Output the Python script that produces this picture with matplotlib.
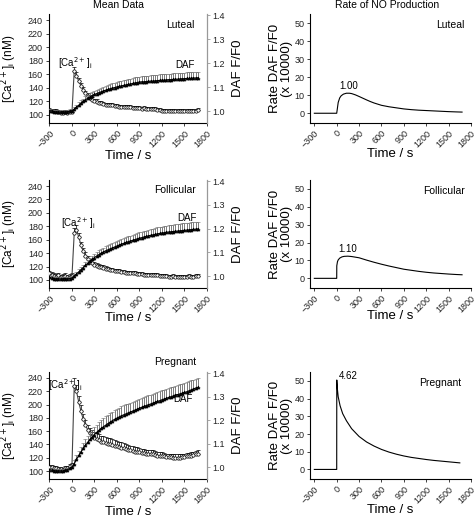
import numpy as np
import matplotlib
matplotlib.use("Agg")
import matplotlib.pyplot as plt

plt.rcParams['font.family'] = ['Liberation Sans', 'DejaVu Sans']

# time grid of the recordings (s)
time = list(range(-300, 1681, 30))

# ---- Luteal ----
lut_ca = [107, 106, 105, 105, 104, 103, 103, 104, 103, 104,
          104,
          165, 158, 150, 143, 137, 132, 128, 125, 122, 120,
          119, 118, 117, 116, 115, 115, 114, 114, 113, 113,
          112, 112, 112, 111, 111, 111, 110, 110, 110, 110,
          109, 110, 109, 109, 108, 108, 108, 107, 107, 106,
          106, 106, 105, 106, 105, 105, 106, 105, 105, 105,
          105, 106, 105, 106, 106, 107]
lut_ca_err = [3, 3, 3, 3, 3, 3, 3, 3, 3, 3,
              3,
              5, 5, 5, 4, 4, 4, 4, 4, 4, 4,
              4, 3, 3, 3, 3, 3, 3, 3, 3, 3,
              3, 3, 3, 3, 3, 3, 3, 3, 3, 3,
              3, 3, 3, 3, 3, 3, 3, 3, 3, 3,
              3, 3, 3, 3, 3, 3, 3, 3, 3, 3,
              3, 3, 3, 3, 3, 3]
lut_daf = [1.002, 1.000, 0.998, 0.997, 0.996, 0.995, 0.996, 0.996, 0.997, 0.999,
           1.000,
           1.008, 1.016, 1.024, 1.032, 1.040, 1.047, 1.053, 1.059, 1.064, 1.069,
           1.073, 1.077, 1.080, 1.084, 1.087, 1.090, 1.093, 1.096, 1.098, 1.101,
           1.103, 1.105, 1.107, 1.109, 1.111, 1.113, 1.115, 1.117, 1.119, 1.121,
           1.122, 1.122, 1.123, 1.124, 1.125, 1.125, 1.126, 1.127, 1.128, 1.129,
           1.129, 1.130, 1.131, 1.131, 1.132, 1.133, 1.133, 1.134, 1.135, 1.135,
           1.136, 1.136, 1.137, 1.138, 1.138, 1.139]
lut_daf_err = [0.008, 0.008, 0.008, 0.008, 0.008, 0.008, 0.008, 0.008, 0.008, 0.008,
               0.008,
               0.010, 0.010, 0.012, 0.012, 0.012, 0.014, 0.014, 0.015, 0.015, 0.016,
               0.016, 0.017, 0.017, 0.018, 0.018, 0.019, 0.019, 0.020, 0.020, 0.020,
               0.021, 0.021, 0.022, 0.022, 0.022, 0.022, 0.023, 0.023, 0.023, 0.023,
               0.023, 0.024, 0.024, 0.024, 0.024, 0.024, 0.025, 0.025, 0.025, 0.025,
               0.025, 0.025, 0.025, 0.025, 0.025, 0.025, 0.025, 0.025, 0.025, 0.025,
               0.025, 0.025, 0.025, 0.025, 0.025, 0.025]

# ---- Follicular ----
fol_ca = [110, 108, 106, 105, 107, 104, 105, 106, 104, 105,
          106,
          170, 175, 164, 152, 143, 136, 131, 127, 125, 123,
          121, 120, 119, 118, 117, 116, 115, 115, 114, 113,
          113, 112, 112, 111, 111, 110, 110, 110, 109, 109,
          109, 108, 108, 108, 107, 107, 107, 107, 106, 106,
          106, 106, 105, 105, 106, 105, 105, 105, 105, 105,
          105, 106, 105, 105, 106, 106]
fol_ca_err = [4, 4, 4, 4, 4, 4, 4, 4, 4, 4,
              4,
              7, 7, 6, 5, 5, 5, 4, 4, 4, 4,
              4, 4, 4, 4, 4, 3, 3, 3, 3, 3,
              3, 3, 3, 3, 3, 3, 3, 3, 3, 3,
              3, 3, 3, 3, 3, 3, 3, 3, 3, 3,
              3, 3, 3, 3, 3, 3, 3, 3, 3, 3,
              3, 3, 3, 3, 3, 3]
fol_daf = [0.995, 0.992, 0.990, 0.988, 0.990, 0.987, 0.989, 0.990, 0.988, 0.990,
           0.992,
           1.000, 1.009, 1.018, 1.027, 1.036, 1.045, 1.054, 1.063, 1.071, 1.078,
           1.085, 1.091, 1.097, 1.102, 1.107, 1.111, 1.115, 1.119, 1.123, 1.127,
           1.131, 1.135, 1.138, 1.142, 1.145, 1.148, 1.151, 1.154, 1.157, 1.160,
           1.162, 1.165, 1.167, 1.170, 1.172, 1.174, 1.176, 1.178, 1.180, 1.182,
           1.183, 1.185, 1.186, 1.187, 1.188, 1.189, 1.190, 1.191, 1.192, 1.193,
           1.194, 1.195, 1.196, 1.197, 1.198, 1.199]
fol_daf_err = [0.008, 0.008, 0.008, 0.008, 0.008, 0.008, 0.008, 0.008, 0.008, 0.008,
               0.008,
               0.010, 0.010, 0.011, 0.012, 0.012, 0.013, 0.014, 0.015, 0.015, 0.016,
               0.016, 0.017, 0.017, 0.018, 0.018, 0.019, 0.019, 0.020, 0.020, 0.020,
               0.021, 0.021, 0.022, 0.022, 0.022, 0.023, 0.023, 0.023, 0.024, 0.024,
               0.024, 0.025, 0.025, 0.025, 0.026, 0.026, 0.026, 0.027, 0.027, 0.027,
               0.028, 0.028, 0.028, 0.029, 0.029, 0.029, 0.030, 0.030, 0.030, 0.030,
               0.030, 0.030, 0.031, 0.031, 0.031, 0.031]

# ---- Pregnant ----
prg_ca = [106, 106, 105, 104, 103, 103, 102, 104, 105, 107,
          109,
          228, 220, 204, 190, 178, 169, 162, 157, 153, 150,
          148, 146, 144, 143, 142, 141, 140, 139, 138, 137,
          136, 135, 134, 133, 132, 131, 130, 129, 129, 128,
          127, 127, 126, 126, 125, 125, 124, 123, 123, 122,
          122, 121, 121, 121, 120, 120, 120, 120, 121, 121,
          122, 122, 123, 124, 125, 126]
prg_ca_err = [3, 3, 3, 3, 3, 3, 3, 3, 3, 3,
              3,
              12, 10, 9, 9, 8, 8, 8, 8, 9, 9,
              9, 9, 9, 9, 9, 9, 9, 9, 8, 8,
              8, 8, 8, 8, 7, 7, 7, 7, 7, 7,
              6, 6, 6, 6, 6, 6, 6, 6, 6, 6,
              5, 5, 5, 5, 5, 5, 5, 5, 5, 5,
              5, 5, 5, 5, 5, 5]
prg_daf = [0.990, 0.988, 0.986, 0.985, 0.984, 0.984, 0.985, 0.987, 0.990, 0.995,
           1.000,
           1.015, 1.033, 1.050, 1.065, 1.080, 1.093, 1.106, 1.118, 1.129, 1.139,
           1.148, 1.157, 1.165, 1.172, 1.179, 1.186, 1.192, 1.198, 1.204, 1.209,
           1.214, 1.219, 1.223, 1.227, 1.231, 1.235, 1.239, 1.243, 1.247, 1.251,
           1.255, 1.259, 1.262, 1.266, 1.269, 1.273, 1.276, 1.280, 1.283, 1.287,
           1.290, 1.293, 1.297, 1.300, 1.303, 1.306, 1.309, 1.312, 1.315, 1.318,
           1.321, 1.325, 1.329, 1.333, 1.337, 1.340]
prg_daf_err = [0.008, 0.008, 0.008, 0.008, 0.008, 0.008, 0.008, 0.008, 0.008, 0.008,
               0.010,
               0.015, 0.018, 0.020, 0.022, 0.024, 0.026, 0.028, 0.030, 0.031, 0.032,
               0.033, 0.034, 0.035, 0.036, 0.037, 0.038, 0.038, 0.039, 0.040, 0.040,
               0.040, 0.040, 0.040, 0.040, 0.040, 0.040, 0.040, 0.040, 0.040, 0.040,
               0.040, 0.040, 0.040, 0.040, 0.040, 0.040, 0.040, 0.040, 0.040, 0.040,
               0.040, 0.040, 0.040, 0.040, 0.040, 0.040, 0.040, 0.040, 0.040, 0.040,
               0.040, 0.040, 0.040, 0.040, 0.040, 0.040]

# ---- rate of NO production (x 10000) ----
lut_rate_t = [-300, 0, 10, 20, 40, 60, 90, 130, 170, 200, 250, 300, 400, 450, 500,
              600, 700, 750, 800, 900, 1000, 1100, 1200, 1300, 1400, 1500, 1600, 1680]
lut_rate = [0, 0, 3.0, 6.0, 8.5, 9.7, 10.6, 11.1, 11.1, 10.9, 10.2, 9.3, 7.4, 6.5, 5.7,
            4.4, 3.6, 3.3, 3.0, 2.4, 2.0, 1.7, 1.5, 1.3, 1.1, 0.9, 0.75, 0.65]
fol_rate_t = [-300, 0, 1, 10, 20, 40, 70, 100, 150, 200, 300, 400, 500, 600, 700, 800,
              900, 1000, 1100, 1200, 1300, 1400, 1500, 1600, 1680]
fol_rate = [0, 0, 7.0, 9.3, 10.3, 11.3, 12.0, 12.3, 12.4, 12.2, 11.5, 10.2, 9.0, 7.9, 6.9,
            6.0, 5.1, 4.5, 3.9, 3.4, 3.0, 2.7, 2.4, 2.15, 2.0]
prg_rate_t = [-300, 0, 1, 10, 20, 45, 80, 130, 200, 300, 400, 500, 600, 700, 800, 900,
              1000, 1100, 1200, 1300, 1400, 1500, 1600, 1650]
prg_rate = [0, 0, 50.5, 45, 41, 36, 31.5, 27.5, 23, 18.6, 15.5, 13.2, 11.3, 9.8, 8.6, 7.6,
            6.8, 6.2, 5.6, 5.1, 4.7, 4.3, 3.9, 3.7]

groups = ['Luteal', 'Follicular', 'Pregnant']
peak_labels = ['1.00', '1.10', '4.62']

W, H = 476, 517
fig = plt.figure(figsize=(W / 100, H / 100), dpi=100)

rows = [(14, 123), (180, 288), (372, 479)]
left_x = (48.5, 207)
right_x = (310, 471)


def box(x, r):
    return [x[0] / W, 1 - r[1] / H, (x[1] - x[0]) / W, (r[1] - r[0]) / H]


def style(ax):
    ax.tick_params(direction='out', length=2.5, width=0.6, labelsize=6.5, pad=1.5,
                   colors='#222')
    ax.set_xticks([-300, 0, 300, 600, 900, 1200, 1500, 1800])
    for lab in ax.get_xticklabels():
        lab.set_rotation(45)
        lab.set_ha('right')
        lab.set_va('top')
        lab.set_rotation_mode('anchor')


mean_data = [(lut_ca, lut_ca_err, lut_daf, lut_daf_err),
             (fol_ca, fol_ca_err, fol_daf, fol_daf_err),
             (prg_ca, prg_ca_err, prg_daf, prg_daf_err)]
rates = [(lut_rate_t, lut_rate), (fol_rate_t, fol_rate), (prg_rate_t, prg_rate)]

# label placement (axes fractions / data coords)
name_pos_left = [(0.918, 0.90), (0.93, 0.907), (0.93, 1.093)]
name_pos_right = [(0.957, 0.90), (0.963, 0.90), (0.938, 0.897)]
ca_label_pos = [(40, 177), (85, 185), (-88, 229)]
daf_label_pos = [(1510, 1.192), (1530, 1.247), (1485, 1.29)]
peak_pos = [(158, 15.2), (145, 16.6), (150, 52.7)]
xlabel_y = [-0.245, -0.225, -0.25]

zeros = np.zeros(len(time))

for i, r in enumerate(rows):
    ca, ca_err, daf, daf_err = mean_data[i]

    # --- mean data panel ---
    ax = fig.add_axes(box(left_x, r))
    ax.set_xlim(-313, 1800)
    ax.set_ylim(88, 249)
    ax.errorbar(time, ca, yerr=[zeros, ca_err], fmt='-o', color='#444', lw=0.8,
                ms=2.4, mfc='white', mec='black', mew=0.5,
                ecolor='black', elinewidth=0.5, capsize=1.5, capthick=0.5, zorder=3)
    ax.set_yticks(range(100, 241, 20))
    for s in ['top', 'right']:
        ax.spines[s].set_visible(False)
    ax.spines['left'].set_linewidth(0.8)
    ax.spines['bottom'].set_linewidth(0.8)
    style(ax)
    ax.set_ylabel('[Ca$^{2+}$]$_\\mathregular{i}$ (nM)', fontsize=8.5)
    ax.yaxis.set_label_coords(-0.185, 0.5)
    ax.set_xlabel('Time / s', fontsize=9.5)
    ax.xaxis.set_label_coords(0.5, xlabel_y[i])
    ax.text(*name_pos_left[i], groups[i], transform=ax.transAxes, ha='right',
            va='center', fontsize=7.5)
    ax.text(*ca_label_pos[i], '[Ca$^{2+}$]$_\\mathregular{i}$', ha='center',
            va='center', fontsize=7)

    ax2 = ax.twinx()
    ax2.set_ylim(0.95, 1.405)
    ax2.errorbar(time, daf, yerr=[zeros, daf_err], fmt='-^', color='black', lw=0.8,
                 ms=2.2, mfc='black', mec='black', mew=0.4,
                 ecolor='#666', elinewidth=0.6, capsize=1.5, capthick=0.5, zorder=4)
    ax2.set_yticks([1.0, 1.1, 1.2, 1.3, 1.4])
    ax2.set_yticklabels(['1.0', '1.1', '1.2', '1.3', '1.4'])
    for s in ['top', 'left', 'bottom']:
        ax2.spines[s].set_visible(False)
    ax2.spines['right'].set_color('#999')
    ax2.spines['right'].set_linewidth(0.9)
    ax2.tick_params(direction='out', length=2.5, width=0.6, labelsize=6.5, pad=1.5,
                    colors='#222')
    ax2.tick_params(axis='y', color='#999')
    ax2.set_ylabel('DAF F/F0', fontsize=9.5)
    ax2.yaxis.set_label_coords(1.16, 0.5)
    ax2.text(*daf_label_pos[i], 'DAF', ha='center', va='center', fontsize=7)

    # --- rate panel ---
    rt, rv = rates[i]
    bx = fig.add_axes(box(right_x, r))
    bx.set_xlim(-358, 1800)
    bx.set_ylim(-5.4, 55)
    bx.plot(rt, rv, color='black', lw=0.8)
    bx.set_yticks(range(0, 51, 10))
    for s in ['top', 'right']:
        bx.spines[s].set_visible(False)
    bx.spines['left'].set_linewidth(0.8)
    bx.spines['bottom'].set_linewidth(0.8)
    style(bx)
    bx.set_ylabel('Rate DAF F/F0\n(x 10000)', fontsize=9.5, linespacing=1.0)
    bx.yaxis.set_label_coords(-0.105, 0.5)
    bx.set_xlabel('Time / s', fontsize=9.5)
    bx.xaxis.set_label_coords(0.5, xlabel_y[i] + 0.02)
    bx.text(*name_pos_right[i], groups[i], transform=bx.transAxes, ha='right',
            va='center', fontsize=7.5)
    bx.text(*peak_pos[i], peak_labels[i], ha='center', va='center', fontsize=7)

fig.text(118 / W, 1 - 5 / H, 'Mean Data', ha='center', va='center', fontsize=7.5)
fig.text(387 / W, 1 - 5 / H, 'Rate of NO Production', ha='center', va='center',
         fontsize=7.5)

fig.savefig('out.png', dpi=100)
